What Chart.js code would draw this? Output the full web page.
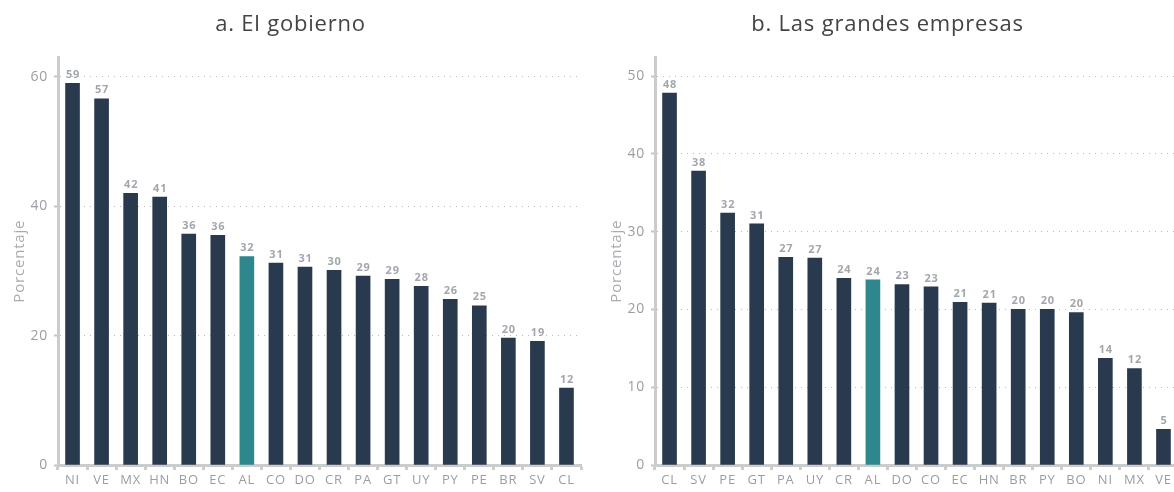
<!DOCTYPE html>
<html>
<head>
<meta charset="utf-8">
<script src="https://cdn.jsdelivr.net/npm/chart.js@4"></script>
<style>
  body { margin: 0; width: 1174px; height: 492px; overflow: hidden; background: #fff; }
  canvas { position: absolute; top: 0; }
  #chartA { left: 0; }
  #chartB { left: 597px; }
</style>
</head>
<body>
<canvas id="chartA" width="600" height="492"></canvas>
<canvas id="chartB" width="600" height="492"></canvas>
<script>
// panel a: El gobierno
const gobiernoTitle = 'a. El gobierno';
const gobiernoLabels = ['NI', 'VE', 'MX', 'HN', 'BO', 'EC', 'AL', 'CO', 'DO', 'CR', 'PA', 'GT', 'UY', 'PY', 'PE', 'BR', 'SV', 'CL'];
const gobiernoValues = [59.0, 56.6, 42.0, 41.4, 35.7, 35.5, 32.2, 31.2, 30.6, 30.1, 29.2, 28.7, 27.6, 25.6, 24.6, 19.6, 19.1, 11.9];

// panel b: Las grandes empresas
const empresasTitle = 'b. Las grandes empresas';
const empresasLabels = ['CL', 'SV', 'PE', 'GT', 'PA', 'UY', 'CR', 'AL', 'DO', 'CO', 'EC', 'HN', 'BR', 'PY', 'BO', 'NI', 'MX', 'VE'];
const empresasValues = [47.8, 37.8, 32.4, 31.0, 26.7, 26.6, 24.0, 23.8, 23.2, 22.9, 20.9, 20.8, 20.0, 20.0, 19.6, 13.7, 12.4, 4.6];

const yAxisTitle = 'Porcentaje';
const highlight = 'AL';

const DARK = '#293a4e';
const TEAL = '#2e878c';
const FONT = '"Open Sans", Lato, sans-serif';

// the original font is a bit wider, spread the letters slightly
const wideText = {
  id: 'wideText',
  beforeUpdate(chart) { chart.ctx.letterSpacing = '0.8px'; },
  beforeDraw(chart) { chart.ctx.letterSpacing = '0.8px'; }
};

// value labels above the bars
const barLabels = {
  id: 'barLabels',
  afterDatasetsDraw(chart) {
    const ctx = chart.ctx;
    const meta = chart.getDatasetMeta(0);
    const data = chart.data.datasets[0].data;
    ctx.save();
    ctx.font = 'bold 11px ' + FONT;
    ctx.fillStyle = '#a2a7ad';
    ctx.textAlign = 'center';
    ctx.textBaseline = 'bottom';
    meta.data.forEach((bar, i) => {
      ctx.fillText(Math.round(data[i]), bar.x + 0.5, bar.y - 3);
    });
    ctx.restore();
  }
};

function makeChart(id, title, labels, values, yMax, step) {
  return new Chart(document.getElementById(id), {
    type: 'bar',
    data: {
      labels: labels,
      datasets: [{
        data: values,
        backgroundColor: labels.map(l => l === highlight ? TEAL : DARK),
        barThickness: 14
      }]
    },
    options: {
      responsive: false,
      animation: false,
      layout: { padding: { left: 0, right: 19, top: 0, bottom: 0 } },
      plugins: {
        legend: { display: false },
        tooltip: { enabled: false },
        title: {
          display: true,
          text: title,
          color: '#444',
          font: { family: FONT, size: 22, weight: 'normal' },
          padding: { top: 12, bottom: 19 }
        }
      },
      scales: {
        x: {
          grid: {
            display: true,
            drawOnChartArea: false,
            tickLength: 5,
            tickColor: '#cccccc',
            tickWidth: 3
          },
          border: { color: '#cccccc', width: 3 },
          ticks: {
            color: '#9a9ea3',
            font: { family: FONT, size: 13 },
            padding: 2,
            maxRotation: 0,
            autoSkip: false
          },
          afterFit(scale) { scale.height = 27; }
        },
        y: {
          min: 0,
          max: yMax,
          grid: {
            color: '#b8b8b8',
            lineWidth: 1,
            tickLength: 4,
            tickColor: '#c4c4c4',
            tickWidth: 2
          },
          border: { color: '#cccccc', width: 3, dash: [1, 5] },
          ticks: {
            stepSize: step,
            includeBounds: false,
            color: '#9a9ea3',
            font: { family: FONT, size: 14 },
            padding: 6
          },
          title: {
            display: true,
            text: yAxisTitle,
            color: '#a8acb0',
            font: { family: FONT, size: 15 },
            padding: { top: 11, bottom: 0 }
          },
          afterFit(scale) { scale.width = 58; }
        }
      }
    },
    plugins: [wideText, barLabels]
  });
}

makeChart('chartA', gobiernoTitle, gobiernoLabels, gobiernoValues, 63, 20);
makeChart('chartB', empresasTitle, empresasLabels, empresasValues, 52.4, 10);
</script>
</body>
</html>
